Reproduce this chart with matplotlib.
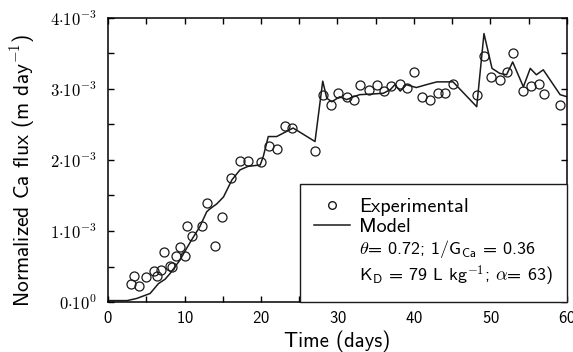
import matplotlib
matplotlib.use("Agg")
import matplotlib.pyplot as plt
from matplotlib.lines import Line2D

plt.rcParams["font.family"] = "cmss10"
plt.rcParams["mathtext.fontset"] = "cm"
plt.rcParams["axes.unicode_minus"] = False
plt.rcParams["axes.formatter.use_mathtext"] = True

# experimental points (days, flux in 1e-3 m/day)
exp_t = [3.0, 3.4, 4.05, 5.0, 6.0, 6.4, 6.9, 7.3, 8.1, 8.4, 8.9, 9.4, 10.0, 10.3, 11.0,
         12.3, 13.0, 14.0, 14.9, 16.1, 17.2, 18.3, 20.0, 21.0, 22.1, 23.1, 24.0, 27.1,
         28.1, 29.2, 30.1, 31.2, 32.2, 33.0, 34.1, 35.1, 36.1, 37.0, 38.2, 39.1, 40.0,
         41.0, 42.1, 43.1, 44.1, 45.1, 48.2, 49.2, 50.1, 51.2, 52.2, 52.9, 54.3, 55.3,
         56.3, 57.0, 59.1]
exp_v = [0.26, 0.36, 0.22, 0.35, 0.44, 0.36, 0.45, 0.71, 0.51, 0.49, 0.65, 0.78, 0.65, 1.07, 0.93,
         1.07, 1.39, 0.79, 1.20, 1.74, 1.98, 1.99, 1.97, 2.20, 2.16, 2.48, 2.45, 2.13,
         2.92, 2.78, 2.95, 2.88, 2.85, 3.05, 2.98, 3.05, 2.97, 3.04, 3.07, 3.01, 3.24,
         2.89, 2.84, 2.94, 2.95, 3.07, 2.91, 3.46, 3.17, 3.12, 3.24, 3.51, 2.97, 3.04,
         3.07, 2.93, 2.78]

# model curve
mod_t = [0, 2.5, 3.75, 5.5, 6.6, 7.45, 8.1, 9.4, 10.3, 10.9, 12.0, 12.9, 13.3, 14.2, 15.1,
         16.2, 17.25, 18.3, 19.9, 20.3, 20.95, 22.05, 24.2, 27.06, 28.07, 28.6, 29.25,
         30.3, 31.2, 32.1, 32.9, 34.7, 36.0, 36.9, 37.5, 38.2, 39.0, 40.3, 41.6, 43.0,
         45.1, 48.2, 49.15, 50.2, 51.2, 52.1, 52.9, 54.3, 55.2, 56.0, 56.9, 59.1, 60]
mod_v = [0.02, 0.02, 0.05, 0.12, 0.26, 0.32, 0.40, 0.59, 0.76, 0.87, 1.06, 1.27, 1.31, 1.38, 1.48,
         1.72, 1.86, 1.91, 1.93, 2.05, 2.33, 2.33, 2.45, 2.26, 3.11, 2.87, 2.82,
         2.89, 2.85, 2.89, 2.92, 2.93, 2.94, 2.99, 3.06, 2.97, 3.06, 3.02, 3.06, 3.10,
         3.10, 2.75, 3.78, 3.29, 3.22, 3.20, 3.38, 3.03, 3.29, 3.20, 3.27, 2.92, 2.89]

y_ticks = [0, 1, 2, 3, 4]
y_labels = [r"$\mathsf{0{\cdot}10^{0}}$", r"$\mathsf{1{\cdot}10^{-3}}$",
            r"$\mathsf{2{\cdot}10^{-3}}$", r"$\mathsf{3{\cdot}10^{-3}}$",
            r"$\mathsf{4{\cdot}10^{-3}}$"]

fig = plt.figure(figsize=(5.73, 3.52), dpi=100)
ax = fig.add_axes([0.1885, 0.142, 0.801, 0.807])

ax.plot(exp_t, exp_v, linestyle="none", marker="o", ms=6.5, mfc="none",
        mec="#1a1a1a", mew=0.9)
ax.plot(mod_t, mod_v, color="#1a1a1a", lw=1.1)

ax.set_xlim(0, 60)
ax.set_ylim(0, 4)
ax.set_xticks([0, 10, 20, 30, 40, 50, 60])
ax.set_xticks([5, 15, 25, 35, 45, 55], minor=True)
ax.set_yticks(y_ticks)
ax.set_yticklabels(y_labels)
ax.set_yticks([0.5, 1.5, 2.5, 3.5], minor=True)
ax.tick_params(which="both", direction="in", top=True, right=True, length=4, width=1.0)
ax.tick_params(axis="x", labelsize=12, pad=6)
ax.tick_params(axis="y", labelsize=12, pad=8)
for s in ax.spines.values():
    s.set_linewidth(1.1)

ax.set_xlabel("Time (days)", fontsize=15)
ax.set_ylabel(r"Normalized Ca flux (m day$^{\mathsf{-1}}$)", fontsize=15.5)
ax.xaxis.set_label_coords(0.5, -0.102)
ax.yaxis.set_label_coords(-0.155, 0.465)

h_exp = Line2D([], [], linestyle="none", marker="o", ms=5.5, mfc="none", mec="#1a1a1a", mew=1.0)
h_mod = Line2D([], [], color="#1a1a1a", lw=1.1)
h_txt = Line2D([], [], linestyle="none")
params = (r"$\theta$= 0.72; 1/G$_{\mathsf{Ca}}$ = 0.36" "\n"
          r"K$_{\mathsf{D}}$ = 79 L kg$^{\mathsf{-1}}$; $\alpha$= 63)")
leg = ax.legend([h_exp, h_mod, h_txt], ["Experimental", "Model", params],
                loc="lower right", borderaxespad=0, fontsize=14.5, frameon=True,
                fancybox=False, edgecolor="#1a1a1a", framealpha=1,
                labelspacing=0.1, handlelength=1.8, handletextpad=0.45,
                borderpad=0.7)
leg.get_texts()[2].set_fontsize(13)
leg.get_texts()[2].set_linespacing(1.2)
leg.get_frame().set_linewidth(1.0)

fig.savefig("out.png", dpi=100)
